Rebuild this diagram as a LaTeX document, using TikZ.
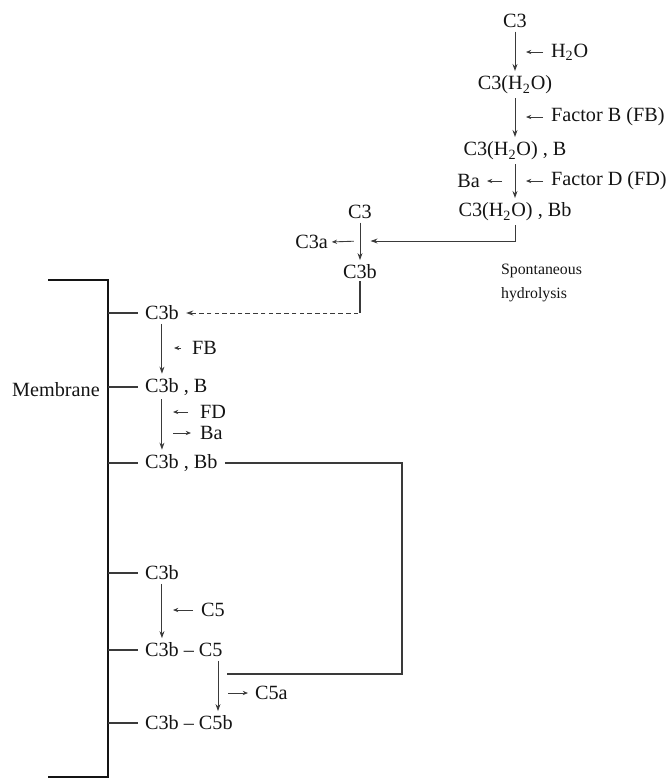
\documentclass[tikz,border=0pt]{standalone}
\usepackage{fontspec}
\setmainfont{Liberation Serif}
\usepackage{xcolor}
\usepackage{tikz}
\usetikzlibrary{positioning,arrows.meta,calc}
\definecolor{ink}{HTML}{141414}
\definecolor{rule}{HTML}{3A3A3A}
\tikzset{
  cpl/.style={inner sep=1pt,text=ink,font=\fontsize{11.5}{13}\selectfont},
  note/.style={inner sep=1pt,text=ink,align=left,font=\fontsize{9}{13.5}\selectfont},
  flow/.style={draw=rule,line width=0.55pt,-{Stealth[length=4pt,width=2.8pt]},shorten >=1.5pt,shorten <=1pt},
  side/.style={draw=rule,line width=0.5pt,-{Stealth[length=3pt,width=2.4pt]}},
  wire/.style={draw=rule,line width=0.6pt},
  bracket/.style={draw=ink,line width=0.8pt}
}

\begin{document}
\begin{tikzpicture}[x=0.02cm,y=-0.02cm]
  \useasboundingbox (0,0) rectangle (667,778);

  % fluid phase: slow turnover of C3
  \node[cpl] (c3) at (515,21) {C3};
  \node[cpl] (c3w) at (515,85) {C3(H\textsubscript{2}O)};
  \node[cpl] (c3wb) at (515,151) {C3(H\textsubscript{2}O) , B};
  \node[cpl] (c3wbb) at (515,212) {C3(H\textsubscript{2}O) , Bb};
  \node[cpl,anchor=west] (water) at (549,52) {H\textsubscript{2}O};
  \node[cpl,anchor=west] (fb) at (549,117) {Factor B (FB)};
  \node[cpl,anchor=west] (fd) at (549,181) {Factor D (FD)};
  \node[cpl,anchor=east] (ba) at (482,181) {Ba};
  \draw[flow] (c3) -- (c3w);
  \draw[flow] (c3w) -- (c3wb);
  \draw[flow] (c3wb) -- (c3wbb);
  \draw[side] (water.west) ++(-6,0) -- ++(-17,0);
  \draw[side] (fb.west) ++(-6,0) -- ++(-17,0);
  \draw[side] (fd.west) ++(-6,0) -- ++(-17,0);
  \draw[side] (ba.east) ++(20,0) -- ++(-15,0);
  \node[note,anchor=west] (hydro) at (499,283) {Spontaneous\\hydrolysis};

  % cleavage of C3
  \node[cpl] (c3m) at (360,212) {C3};
  \node[cpl] (c3b) at (360,272) {C3b};
  \node[cpl,anchor=east] (c3a) at (330,242) {C3a};
  \coordinate (split) at (360,241);
  \draw[flow] (c3m) -- (c3b);
  \draw[flow,shorten >=6pt] (c3wbb.south) |- (split);
  \draw[side,shorten <=3.5pt,shorten >=1pt] (split) -- (c3a.east);

  % membrane bound steps
  \coordinate (memtop) at (108,280);
  \coordinate (membot) at (108,777);
  \draw[bracket] (memtop) ++(-60,0) -- (memtop) -- (membot) -- ++(-60,0);
  \node[cpl] (memlbl) at (56,390) {Membrane};

  \node[cpl,anchor=west] (mc3b) at (143,313) {C3b};
  \node[cpl,anchor=west] (mc3bB) at (143,387) {C3b , B};
  \node[cpl,anchor=west] (mc3bBb) at (143,463) {C3b , Bb};
  \node[cpl,anchor=west] (mc3bl) at (143,573) {C3b};
  \node[cpl,anchor=west] (mc5) at (143,650) {C3b -- C5};
  \node[cpl,anchor=west] (mc5b) at (143,723) {C3b -- C5b};
  \foreach \n in {mc3b,mc3bB,mc3bBb,mc3bl,mc5,mc5b}
    \draw[wire,shorten >=3pt] (\n.west -| memtop) -- (\n.west);

  \draw[wire] (c3b.south) -- (c3b.south |- mc3b.east);
  \draw[flow,dashed,dash pattern=on 2.6pt off 1.8pt,shorten >=3pt] (c3b.south |- mc3b.east) -- (mc3b.east);

  \node[cpl,anchor=west] (fb2) at (190,348) {FB};
  \node[cpl,anchor=west] (fd2) at (198,412) {FD};
  \node[cpl,anchor=west] (ba2) at (198,433) {Ba};
  \draw[flow] (mc3b.south) -- (mc3b.south |- mc3bB.north);
  \draw[flow] (mc3b.south |- mc3bB.south) -- (mc3b.south |- mc3bBb.north);
  \draw[side] (fb2.west) ++(-9,0) -- ++(-7,0);
  \draw[side] (fd2.west) ++(-10,0) -- ++(-15,0);
  \draw[side] (ba2.west) ++(-25,0) -- ++(18,0);

  % C3 convertase feeds the C5 step
  \coordinate (loopx) at (402,464);
  \coordinate (c5cut) at (227,674);
  \coordinate (c5spine) at (218,650);
  \draw[wire,shorten <=3pt] (mc3bBb.east) -- (mc3bBb.east -| loopx) |- (c5cut);

  \node[cpl,anchor=west] (c5) at (199,610) {C5};
  \node[cpl,anchor=west] (c5a) at (253,693) {C5a};
  \draw[flow] (mc3bl.south) -- (mc3bl.south |- mc5.north);
  \draw[flow] (c5spine |- mc5.south) -- (c5spine |- mc5b.north);
  \draw[side] (c5.west) ++(-6,0) -- ++(-20,0);
  \draw[side] (c5a.west) ++(-25,0) -- ++(20,0);
\end{tikzpicture}
\end{document}
